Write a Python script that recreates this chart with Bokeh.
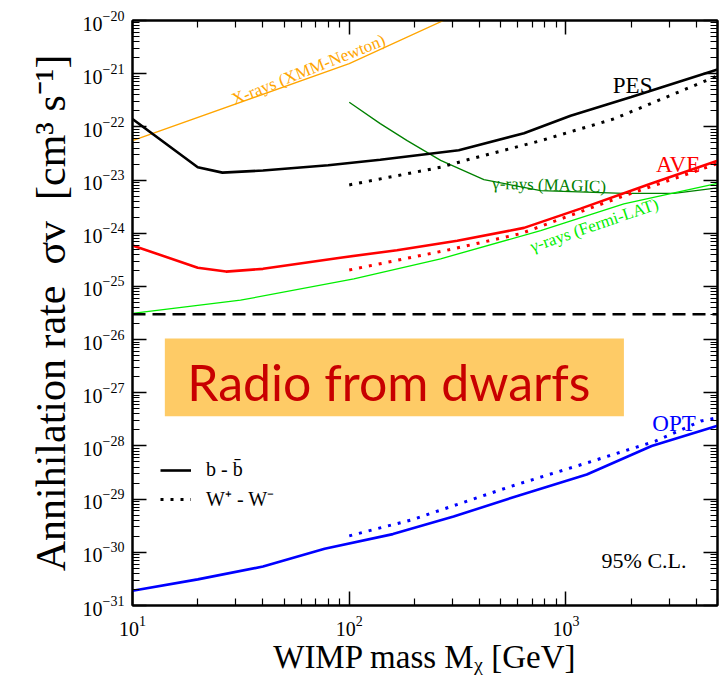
import math
from bokeh.plotting import figure
from bokeh.models import (LogAxis, FixedTicker, Label, Legend, LegendItem,
                          BoxAnnotation, Span, CustomJSTickFormatter, Range1d)
from bokeh.embed import file_html
from bokeh.resources import INLINE

# ---------------- data ----------------
xray_mass = [10, 100, 300]
xray_sv = [5.5e-23, 1.55e-21, 1.2e-20]

pes_bb_mass = [10, 20, 26, 40, 80, 139, 320, 640, 1050, 2000, 5000]
pes_bb_sv = [1.41e-22, 1.74e-23, 1.38e-23, 1.51e-23, 1.9e-23, 2.4e-23,
             3.63e-23, 7.6e-23, 1.62e-22, 3.63e-22, 1.2e-21]
pes_ww_mass = [100, 264, 351, 764, 1663, 5000]
pes_ww_sv = [8.1e-24, 1.74e-23, 2.4e-23, 5.5e-23, 1.41e-22, 9.1e-22]

ave_bb_mass = [10, 20, 27, 40, 91, 166, 315, 640, 1167, 2455, 5000]
ave_bb_sv = [5.9e-25, 2.24e-25, 1.9e-25, 2.14e-25, 3.47e-25, 4.8e-25,
             7.2e-25, 1.26e-24, 2.9e-24, 8.5e-24, 2.3e-23]
ave_ww_mass = [100, 283, 617, 1787, 5000]
ave_ww_sv = [2.04e-25, 4.8e-25, 9.8e-25, 4.8e-24, 2.04e-23]

magic_mass = [100, 139, 185, 264, 418, 764, 1849, 3146, 5000]
magic_sv = [2.9e-22, 1.15e-22, 5.5e-23, 2.34e-23, 1.02e-23, 6.3e-24,
            5.6e-24, 5.6e-24, 7.1e-24]

fermi_mass = [10, 31.5, 105, 264, 764, 1849, 5000]
fermi_sv = [3.1e-26, 5.5e-26, 1.38e-25, 3.3e-25, 1.12e-24, 3.55e-24, 8.7e-24]

opt_bb_mass = [10, 20, 40, 77, 159, 303, 557, 1247, 2484, 5000]
opt_bb_sv = [1.9e-31, 3.1e-31, 5.4e-31, 1.17e-30, 2.2e-30, 4.7e-30,
             1.05e-29, 2.9e-29, 1.0e-28, 2.4e-28]
opt_ww_mass = [100, 195, 557, 1247, 2584, 4200, 5000]
opt_ww_sv = [2.04e-30, 4.1e-30, 1.74e-29, 4.8e-29, 1.23e-28, 2.95e-28, 3.4e-28]

thermal_sv = 3e-26

x_decades = [1, 2, 3]
y_decades = list(range(-31, -19))

SERIF = "Liberation Serif"
NB = "\u00a0"

# ---------------- figure ----------------
p = figure(width=726, height=693, x_axis_type="log", y_axis_type="log",
           x_range=Range1d(10, 5000), y_range=Range1d(1e-31, 1e-20),
           output_backend="svg", toolbar_location=None,
           min_border_left=132, min_border_right=9, min_border_top=20,
           min_border_bottom=88)
p.xgrid.visible = False
p.ygrid.visible = False
p.outline_line_color = "black"
p.outline_line_width = 2
p.background_fill_color = "white"
p.border_fill_color = "white"

xt = [10.0 ** k for k in x_decades]
xm = [m * 10.0 ** k for k in x_decades for m in range(2, 10) if m * 10.0 ** k <= 5000]
yt = [10.0 ** k for k in y_decades]
ym = [m * 10.0 ** k for k in y_decades[:-1] for m in range(2, 10)]


def style_axis(ax, labels=True):
    ax.axis_line_width = 2
    ax.major_tick_in = 14
    ax.major_tick_out = 0
    ax.minor_tick_in = 7
    ax.minor_tick_out = 0
    ax.major_tick_line_width = 1.5
    ax.minor_tick_line_width = 1.2
    if labels:
        ax.major_label_text_font = SERIF
        ax.major_label_text_font_size = "20px"
        ax.major_label_text_color = "black"
        ax.axis_label_text_font = SERIF
        ax.axis_label_text_font_style = "normal"
        ax.axis_label_text_color = "black"
    else:
        ax.formatter = CustomJSTickFormatter(code="return ''")
        ax.major_label_text_font_size = "0px"
        ax.major_label_standoff = 0


p.xaxis.ticker = FixedTicker(ticks=xt, minor_ticks=xm)
p.yaxis.ticker = FixedTicker(ticks=yt, minor_ticks=ym)
style_axis(p.xaxis[0])
style_axis(p.yaxis[0])
p.xaxis.major_label_standoff = 10
p.yaxis.major_label_standoff = 8

p.xaxis.axis_label = "WIMP mass M\u1d6a [GeV]"
p.xaxis.axis_label_text_font_size = "33px"
p.xaxis.axis_label_standoff = 0
p.yaxis.axis_label = ("Annihilation rate" + NB + NB + "σv" + NB + NB + "[cm³ s⁻¹]")
p.yaxis.axis_label_text_font_size = "42px"
p.yaxis.axis_label_standoff = 6

top_ax = LogAxis(ticker=FixedTicker(ticks=xt, minor_ticks=xm))
right_ax = LogAxis(ticker=FixedTicker(ticks=yt, minor_ticks=ym))
style_axis(top_ax, labels=False)
style_axis(right_ax, labels=False)
p.add_layout(top_ax, "above")
p.add_layout(right_ax, "right")

# ---------------- shaded box & title text ----------------
p.add_layout(BoxAnnotation(left=14.1, right=1850, top=1.05e-26, bottom=3.6e-28,
                           fill_color="#FECB66", fill_alpha=1.0, line_alpha=0,
                           level="underlay"))
p.add_layout(Label(x=17.9, y=1.58e-27, text="Radio from dwarfs",
                   text_font="Lato", text_font_size="50px",
                   text_color="#C80000", text_align="left",
                   text_baseline="alphabetic"))

# ---------------- curves ----------------
p.add_layout(Span(location=thermal_sv, dimension="width", line_color="black",
                  line_width=2.5, line_dash="13 7"))

p.line(xray_mass, xray_sv, line_color="orange", line_width=1.3)
p.line(magic_mass, magic_sv, line_color="#008000", line_width=1.3)
p.line(fermi_mass, fermi_sv, line_color="#00EE00", line_width=1.3)

r_bb = p.line(pes_bb_mass, pes_bb_sv, line_color="black", line_width=2.6)
r_ww = p.line(pes_ww_mass, pes_ww_sv, line_color="black", line_width=3,
              line_dash="3 7")
p.line(ave_bb_mass, ave_bb_sv, line_color="red", line_width=2.6)
p.line(ave_ww_mass, ave_ww_sv, line_color="red", line_width=3, line_dash="3 7")
p.line(opt_bb_mass, opt_bb_sv, line_color="blue", line_width=2.6)
p.line(opt_ww_mass, opt_ww_sv, line_color="blue", line_width=3, line_dash="3 7")

# ---------------- curve labels ----------------
def add_text(x, y, text, color, size, angle=0.0, align="left"):
    p.add_layout(Label(x=x, y=y, text=text, text_color=color, text_font=SERIF,
                       text_font_size=size, angle=angle, text_align=align,
                       text_baseline="alphabetic"))


add_text(2030, 5.9e-22, "PES", "black", "23px", align="center")
add_text(3290, 2.0e-23, "AVE", "red", "23px", align="center")
add_text(3150, 2.6e-28, "OPT", "blue", "23px", align="center")
add_text(28.9, 3.2e-22, "X-rays (XMM-Newton)", "orange", "17px", angle=0.379)
add_text(457, 8.7e-24, "γ-rays (MAGIC)", "#008000", "17px", angle=-0.03)
add_text(687, 5.5e-25, "γ-rays (Fermi-LAT)", "#00EE00", "17px", angle=0.33)
add_text(1459, 7.1e-31, "95% C.L.", "black", "22px")

# ---------------- legend ----------------
legend = Legend(items=[LegendItem(label="b - b\u0304", renderers=[r_bb]),
                       LegendItem(label="W\u207a - W\u207b", renderers=[r_ww])],
                location=(28, 93), orientation="vertical")
legend.background_fill_alpha = 0
legend.border_line_alpha = 0
legend.label_text_font = SERIF
legend.label_text_font_size = "20px"
legend.label_text_color = "black"
legend.glyph_width = 31
legend.glyph_height = 22
legend.label_height = 22
legend.label_standoff = 15
legend.spacing = 4
legend.padding = 0
legend.margin = 0
p.add_layout(legend)

open("out.html", "w").write(file_html(p, INLINE))
